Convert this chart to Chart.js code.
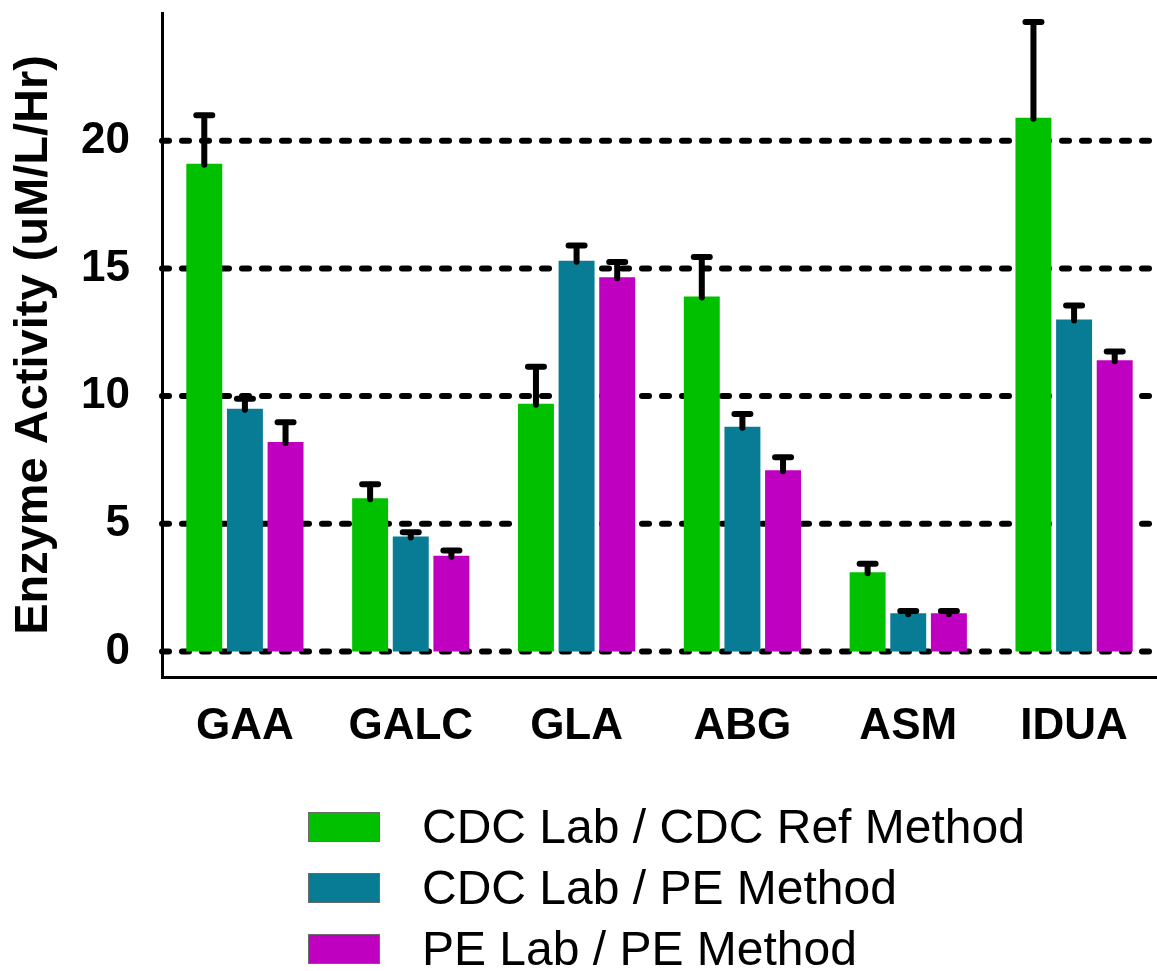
<!DOCTYPE html>
<html>
<head>
<meta charset="utf-8">
<script src="https://cdn.jsdelivr.net/npm/chart.js@4.4.0/dist/chart.umd.min.js"></script>
<style>
  body { margin: 0; background: #fff; }
  #quadro { position: relative; width: 1157px; height: 971px; font-family: "Liberation Sans", Arial, sans-serif; }
  #grafico { position: absolute; left: 0; top: 0; }
  #legenda { position: absolute; left: 308px; top: 796px; }
  .item { display: flex; align-items: center; height: 61px; }
  .caixa { width: 72px; height: 30px; border: 1px solid #6a6a6a; box-sizing: border-box; margin-right: 42px; }
  .item span { font-size: 48px; line-height: 1; color: #000; white-space: nowrap; }
</style>
</head>
<body>
<div id="quadro">
  <canvas id="grafico" width="1157" height="971"></canvas>
  <div id="legenda"></div>
</div>
<script>
const categorias = ['GAA', 'GALC', 'GLA', 'ABG', 'ASM', 'IDUA'];

const cdcRef = [19.1, 6.0, 9.7, 13.9, 3.1, 20.9];
const cdcRefErro = [1.9, 0.55, 1.45, 1.55, 0.33, 3.75];

const cdcPe = [9.5, 4.5, 15.3, 8.8, 1.5, 13.0];
const cdcPeErro = [0.4, 0.17, 0.6, 0.5, 0.08, 0.55];

const pePe = [8.2, 3.75, 14.65, 7.1, 1.5, 11.4];
const pePeErro = [0.78, 0.2, 0.6, 0.5, 0.08, 0.35];

const rotulos = ['CDC Lab / CDC Ref Method', 'CDC Lab / PE Method', 'PE Lab / PE Method'];
const cores = ['#00c000', '#097c95', '#c000c0'];
const marcasY = [0, 5, 10, 15, 20];

Chart.defaults.font.family = '"Liberation Sans", Arial, sans-serif';
Chart.defaults.color = '#000';

// linhas tracejadas de fundo (pontas redondas)
const gradeTracejada = {
  id: 'gradeTracejada',
  beforeDatasetsDraw(chart) {
    const { ctx, chartArea, scales } = chart;
    ctx.save();
    ctx.strokeStyle = '#000';
    ctx.lineWidth = 6;
    ctx.lineCap = 'round';
    ctx.setLineDash([7, 13]);
    marcasY.forEach(v => {
      const y = scales.y.getPixelForValue(v);
      ctx.beginPath();
      ctx.moveTo(chartArea.left, y);
      ctx.lineTo(chartArea.right, y);
      ctx.stroke();
    });
    ctx.restore();
  }
};

// barra de erro só para cima
const barrasErro = {
  id: 'barrasErro',
  afterDatasetsDraw(chart) {
    const { ctx, scales } = chart;
    ctx.save();
    ctx.strokeStyle = '#000';
    ctx.lineWidth = 6;
    ctx.lineCap = 'round';
    chart.data.datasets.forEach((ds, i) => {
      chart.getDatasetMeta(i).data.forEach((bar, j) => {
        const topo = scales.y.getPixelForValue(ds.data[j] + ds.erros[j]);
        ctx.beginPath();
        ctx.moveTo(bar.x, bar.y + 1);
        ctx.lineTo(bar.x, topo);
        ctx.moveTo(bar.x - 8, topo);
        ctx.lineTo(bar.x + 8, topo);
        ctx.stroke();
      });
    });
    ctx.restore();
  }
};

const valores = [cdcRef, cdcPe, pePe];
const erros = [cdcRefErro, cdcPeErro, pePeErro];

new Chart(document.getElementById('grafico').getContext('2d'), {
  type: 'bar',
  data: {
    labels: categorias,
    datasets: rotulos.map((r, i) => ({
      label: r,
      data: valores[i],
      erros: erros[i],
      backgroundColor: cores[i],
      borderWidth: 0,
      barPercentage: 0.885,
      categoryPercentage: 0.735
    }))
  },
  options: {
    responsive: false,
    animation: false,
    layout: { padding: { top: 13, left: 0, right: 0, bottom: 0 } },
    plugins: {
      legend: { display: false },
      tooltip: { enabled: false }
    },
    scales: {
      x: {
        grid: { display: false, drawTicks: false },
        border: { display: true, color: '#000', width: 3 },
        ticks: { color: '#000', font: { size: 44, weight: 'bold' }, padding: 23 },
        afterFit: s => { s.height = 294; s.paddingLeft = 0; s.paddingRight = 0; }
      },
      y: {
        min: -1,
        max: 25,
        afterBuildTicks: s => { s.ticks = marcasY.map(v => ({ value: v })); },
        afterFit: s => { s.width = 162; s.paddingTop = 0; s.paddingBottom = 0; },
        grid: { display: false, drawTicks: false },
        border: { display: true, color: '#000', width: 3 },
        ticks: { color: '#000', font: { size: 44, weight: 'bold' }, padding: 32 },
        title: {
          display: true,
          text: 'Enzyme Activity (uM/L/Hr)',
          color: '#000',
          font: { size: 47, weight: 'bold' },
          padding: { top: 6, bottom: 0 }
        }
      }
    }
  },
  plugins: [gradeTracejada, barrasErro]
});

// legenda em html, uma série por linha
const legenda = document.getElementById('legenda');
rotulos.forEach((r, i) => {
  const item = document.createElement('div');
  item.className = 'item';
  item.innerHTML = `<div class="caixa" style="background:${cores[i]}"></div><span>${r}</span>`;
  legenda.appendChild(item);
});
</script>
</body>
</html>
